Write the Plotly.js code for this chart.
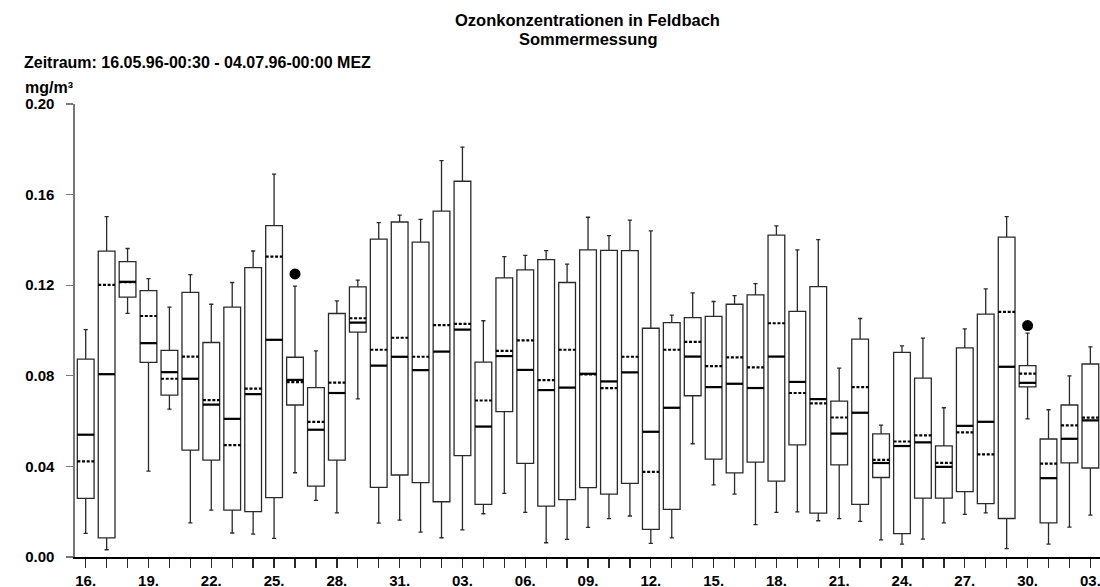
<!DOCTYPE html>
<html>
<head>
<meta charset="utf-8">
<script src="https://cdn.plot.ly/plotly-3.0.1.min.js"></script>
<style>
  html, body { margin: 0; padding: 0; background: #ffffff; }
  #chart { width: 1100px; height: 587px; }
</style>
</head>
<body>
<div id="chart"></div>
<script>
// Daily ozone statistics, Feldbach, 16.05.1996 - 03.07.1996 (mg/m³)
const days = [
  '16.', '17.', '18.', '19.', '20.', '21.', '22.', '23.', '24.', '25.', '26.', '27.', '28.', '29.', '30.', '31.',
  '01.', '02.', '03.', '04.', '05.', '06.', '07.', '08.', '09.', '10.', '11.', '12.', '13.', '14.', '15.',
  '16.', '17.', '18.', '19.', '20.', '21.', '22.', '23.', '24.', '25.', '26.', '27.', '28.', '29.', '30.',
  '01.', '02.', '03.'
];

const whiskerLow = [
  0.0104, 0.0032, 0.1076, 0.0379, 0.0653, 0.0151, 0.0207, 0.0106, 0.0101, 0.0082, 0.0372, 0.0250, 0.0195, 0.0698, 0.0150, 0.0163,
  0.0110, 0.0085, 0.0120, 0.0191, 0.0281, 0.0197, 0.0063, 0.0078, 0.0131, 0.0169, 0.0181, 0.0060, 0.0084, 0.0500, 0.0318,
  0.0278, 0.0143, 0.0197, 0.0199, 0.0160, 0.0169, 0.0157, 0.0076, 0.0057, 0.0079, 0.0151, 0.0188, 0.0195, 0.0037, 0.0610,
  0.0057, 0.0132, 0.0185
];
const quartile1 = [
  0.0259, 0.0084, 0.1147, 0.0859, 0.0715, 0.0472, 0.0428, 0.0207, 0.0200, 0.0262, 0.0671, 0.0313, 0.0428, 0.0993, 0.0307, 0.0362,
  0.0328, 0.0244, 0.0448, 0.0232, 0.0642, 0.0413, 0.0225, 0.0253, 0.0306, 0.0278, 0.0325, 0.0122, 0.0210, 0.0712, 0.0432,
  0.0371, 0.0419, 0.0335, 0.0495, 0.0194, 0.0407, 0.0232, 0.0351, 0.0103, 0.0260, 0.0260, 0.0289, 0.0236, 0.0170, 0.0751,
  0.0151, 0.0416, 0.0393
];
const medians = [
  0.0540, 0.0807, 0.1215, 0.0944, 0.0816, 0.0787, 0.0673, 0.0610, 0.0719, 0.0959, 0.0782, 0.0562, 0.0724, 0.1035, 0.0845, 0.0884,
  0.0825, 0.0907, 0.1004, 0.0576, 0.0887, 0.0826, 0.0737, 0.0748, 0.0809, 0.0775, 0.0815, 0.0553, 0.0659, 0.0885, 0.0750,
  0.0765, 0.0746, 0.0885, 0.0773, 0.0697, 0.0545, 0.0637, 0.0415, 0.0490, 0.0506, 0.0398, 0.0579, 0.0597, 0.0840, 0.0769,
  0.0348, 0.0522, 0.0603
];
const means = [
  0.0422, 0.1201, 0.1213, 0.1064, 0.0787, 0.0885, 0.0693, 0.0494, 0.0743, 0.1326, 0.0772, 0.0597, 0.0770, 0.1054, 0.0915, 0.0968,
  0.0884, 0.1024, 0.1029, 0.0691, 0.0910, 0.0956, 0.0781, 0.0915, 0.0806, 0.0746, 0.0884, 0.0376, 0.0915, 0.0950, 0.0843,
  0.0881, 0.0837, 0.1032, 0.0724, 0.0678, 0.0616, 0.0750, 0.0429, 0.0510, 0.0537, 0.0416, 0.0550, 0.0453, 0.1082, 0.0810,
  0.0412, 0.0581, 0.0615
];
const quartile3 = [
  0.0874, 0.1350, 0.1304, 0.1176, 0.0912, 0.1168, 0.0947, 0.1103, 0.1278, 0.1463, 0.0882, 0.0748, 0.1075, 0.1193, 0.1403, 0.1479,
  0.1390, 0.1527, 0.1659, 0.0860, 0.1232, 0.1268, 0.1313, 0.1212, 0.1356, 0.1354, 0.1353, 0.1010, 0.1035, 0.1057, 0.1062,
  0.1116, 0.1157, 0.1421, 0.1084, 0.1194, 0.0688, 0.0962, 0.0544, 0.0903, 0.0790, 0.0491, 0.0923, 0.1072, 0.1412, 0.0845,
  0.0521, 0.0671, 0.0852
];
const whiskerHigh = [
  0.1004, 0.1503, 0.1362, 0.1229, 0.1103, 0.1247, 0.1116, 0.1212, 0.1351, 0.1690, 0.1196, 0.0910, 0.1131, 0.1222, 0.1476, 0.1509,
  0.1491, 0.1750, 0.1810, 0.1043, 0.1326, 0.1332, 0.1353, 0.1293, 0.1500, 0.1419, 0.1487, 0.1440, 0.1068, 0.1166, 0.1128,
  0.1154, 0.1207, 0.1462, 0.1356, 0.1401, 0.0834, 0.1053, 0.0582, 0.0932, 0.0966, 0.0659, 0.1007, 0.1184, 0.1503, 0.0988,
  0.0650, 0.0800, 0.0928
];

// Extreme values drawn as single dots (index into days)
const outlierDay = [10, 45];
const outlierValue = [0.1250, 0.1022];

const yTicks = [0.00, 0.04, 0.08, 0.12, 0.16, 0.20];

// ---- drawing ----
const idx = days.map((_, i) => i);
const boxWidth = 0.8;
const half = boxWidth / 2;

function segments(values) {
  const xs = [], ys = [];
  values.forEach((v, i) => {
    xs.push(i - half, i + half, null);
    ys.push(v, v, null);
  });
  return { xs, ys };
}
const medSeg = segments(medians);
const meanSeg = segments(means);

const fontFam = 'Liberation Sans, Arial, Helvetica, sans-serif';
const boldFont = (size) => ({ family: fontFam, size: size, weight: 'bold', color: '#000000' });

const traces = [
  {
    type: 'box',
    x: idx,
    q1: quartile1,
    median: medians,
    q3: quartile3,
    lowerfence: whiskerLow,
    upperfence: whiskerHigh,
    boxpoints: false,
    width: boxWidth,
    whiskerwidth: 0.25,
    fillcolor: '#ffffff',
    line: { color: '#2a2a2a', width: 1.3 },
    hoverinfo: 'skip'
  },
  {
    type: 'scatter',
    mode: 'lines',
    x: medSeg.xs,
    y: medSeg.ys,
    line: { color: '#000000', width: 2.2 },
    connectgaps: false,
    hoverinfo: 'skip'
  },
  {
    type: 'scatter',
    mode: 'lines',
    x: meanSeg.xs,
    y: meanSeg.ys,
    line: { color: '#000000', width: 2.2, dash: '3px,1.7px' },
    connectgaps: false,
    hoverinfo: 'skip'
  },
  {
    type: 'scatter',
    mode: 'markers',
    x: outlierDay,
    y: outlierValue,
    marker: { color: '#000000', size: 11, symbol: 'circle' },
    hoverinfo: 'skip'
  }
];

const layout = {
  width: 1100,
  height: 587,
  margin: { l: 75, r: 0, t: 104, b: 30, pad: 0 },
  paper_bgcolor: '#ffffff',
  plot_bgcolor: '#ffffff',
  showlegend: false,
  font: { family: fontFam, color: '#000000' },
  xaxis: {
    range: [-0.511, 48.46],
    tickmode: 'array',
    tickvals: idx,
    ticktext: days.map((d, i) => (i % 3 === 0 ? d : '')),
    ticks: 'outside',
    ticklen: 9,
    tickwidth: 1.3,
    tickcolor: '#2a2a2a',
    ticklabeloverflow: 'allow',
    showline: true,
    linecolor: '#000000',
    linewidth: 1.5,
    showgrid: false,
    zeroline: false,
    tickfont: boldFont(15)
  },
  yaxis: {
    range: [0, 0.2],
    tickmode: 'array',
    tickvals: yTicks,
    ticktext: yTicks.map(v => v.toFixed(2)),
    ticks: 'outside',
    ticklen: 7,
    tickwidth: 1.3,
    tickcolor: '#777777',
    showline: true,
    linecolor: '#777777',
    linewidth: 1.6,
    showgrid: false,
    zeroline: false,
    ticklabelstandoff: 9,
    tickfont: boldFont(15)
  },
  annotations: [
    {
      text: 'Ozonkonzentrationen in Feldbach',
      xref: 'paper', yref: 'paper',
      x: 0.5, y: 1.1853, xanchor: 'center', yanchor: 'middle',
      showarrow: false,
      font: boldFont(16.5)
    },
    {
      text: 'Sommermessung',
      xref: 'paper', yref: 'paper',
      x: 0.5, y: 1.1430, xanchor: 'center', yanchor: 'middle',
      showarrow: false,
      font: boldFont(16.5)
    },
    {
      text: 'Zeitraum: 16.05.96-00:30 - 04.07.96-00:00 MEZ',
      xref: 'paper', yref: 'paper',
      x: -0.0517, y: 1.092, xanchor: 'left', yanchor: 'middle',
      showarrow: false,
      font: boldFont(16)
    },
    {
      text: 'mg/m³',
      xref: 'paper', yref: 'paper',
      x: -0.0507, y: 1.0375, xanchor: 'left', yanchor: 'middle',
      showarrow: false,
      font: boldFont(16)
    }
  ]
};

Plotly.newPlot('chart', traces, layout, { staticPlot: true, displayModeBar: false });
</script>
</body>
</html>
